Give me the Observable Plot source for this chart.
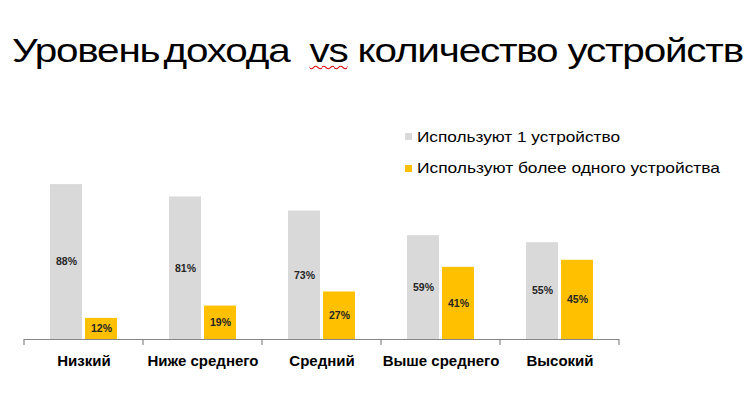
<!DOCTYPE html>
<html><head><meta charset="utf-8">
<script src="https://cdn.jsdelivr.net/npm/d3@7"></script>
<script src="https://cdn.jsdelivr.net/npm/@observablehq/plot@0.6"></script>
<style>
body{margin:0;background:#fff;font-family:"Liberation Sans",Arial,sans-serif;}
#wrap{position:relative;width:750px;height:397px;overflow:hidden;background:#fff;}
#chart{position:absolute;left:0;top:0;}
#title{position:absolute;left:12px;top:33px;font-size:34px;line-height:34px;letter-spacing:-1px;white-space:pre;transform-origin:0 0;color:#000;}
#title .sp{text-decoration:underline wavy #e00000;text-decoration-thickness:1px;text-underline-offset:3px;}
#title .tight{margin-left:-5px;}
.leg{position:absolute;font-size:15px;line-height:15px;white-space:pre;transform-origin:0 0;color:#000;}
.sw{position:absolute;width:7px;height:7px;}
</style>
</head><body>
<div id="wrap">
  <div id="chart"></div>
  <div id="title">Уровень<span class="tight"> </span>дохода  <span class="sp">vs</span> количество устройств</div>
  <div class="sw" id="sw0" style="left:405px;top:133px;"></div>
  <div class="leg" id="leg0" style="left:417px;top:129px;"></div>
  <div class="sw" id="sw1" style="left:405px;top:165px;"></div>
  <div class="leg" id="leg1" style="left:417px;top:160px;"></div>
</div>
<script>
const categories = ["Низкий", "Ниже среднего", "Средний", "Выше среднего", "Высокий"];
const series = ["Используют 1 устройство", "Используют более одного устройства"];
const oneDevice = [88, 81, 73, 59, 55];
const moreDevices = [12, 19, 27, 41, 45];
const colors = ["#d9d9d9", "#ffc000"];

const data = categories.flatMap((c, i) => [
  {cat: c, s: series[0], v: oneDevice[i]},
  {cat: c, s: series[1], v: moreDevices[i]}
]);

const chart = Plot.plot({
  width: 750, height: 397,
  marginLeft: 23, marginRight: 131, marginTop: 163, marginBottom: 58,
  style: {fontFamily: "'Liberation Sans', Arial, sans-serif", background: "white"},
  fx: {domain: categories, padding: 0, label: null, axis: null},
  x: {domain: series, axis: null, paddingInner: 0.083, paddingOuter: 0.697},
  y: {domain: [0, 100], axis: null},
  color: {domain: series, range: colors},
  marks: [
    Plot.barY(data, {fx: "cat", x: "s", y: "v", fill: "s"}),
    Plot.text(data, {fx: "cat", x: "s", y: d => d.v / 2, text: d => d.v + "%",
      fontWeight: "bold", fontSize: 10.5, fill: "#262626"}),
    Plot.ruleY([0], {stroke: "#868686", strokeWidth: 1.2}),
    Plot.axisFx({anchor: "bottom", tickSize: 0, tickPadding: 16, fontSize: 15,
      fontWeight: "bold", fill: "#000", label: null})
  ]
});
document.getElementById("chart").appendChild(chart);

// boundary tick marks on the category axis, from the fx scale
const fx = chart.scale("fx");
const y = chart.scale("y");
const y0 = y.apply(0);
const bw = fx.bandwidth;
const bounds = categories.map(c => fx.apply(c)).concat([fx.apply(categories[categories.length - 1]) + bw]);
d3.select(chart).append("g")
  .selectAll("line").data(bounds).join("line")
  .attr("x1", d => d).attr("x2", d => d)
  .attr("y1", y0).attr("y2", y0 + 6)
  .attr("stroke", "#868686").attr("stroke-width", 1.2);

// legend
series.forEach((s, i) => {
  document.getElementById("sw" + i).style.background = colors[i];
  document.getElementById("leg" + i).textContent = s;
});

// fit text widths to reference extents
function fit(el, w) {
  const nat = el.getBoundingClientRect().width;
  el.style.transform = `scaleX(${w / nat})`;
}
fit(document.getElementById("title"), 731);
fit(document.getElementById("leg0"), 203);
fit(document.getElementById("leg1"), 303);
</script>
</body></html>
